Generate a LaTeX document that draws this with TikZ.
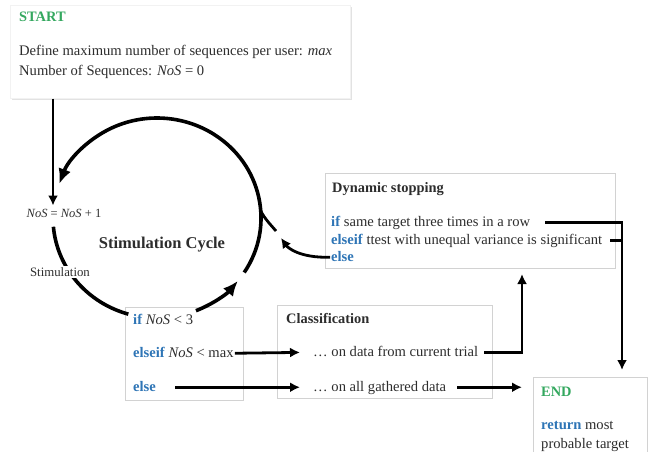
\documentclass[tikz,border=0pt]{standalone}
\usepackage{fontspec}
\setmainfont{Liberation Serif}
\usepackage{xcolor}
\usetikzlibrary{arrows.meta,positioning,calc,shadows}
\definecolor{kwblue}{RGB}{46,117,182}
\definecolor{startgreen}{RGB}{52,168,95}
\definecolor{txtgray}{RGB}{45,45,45}
\newcommand{\kw}[1]{\textcolor{kwblue}{\textbf{#1}}}
\newcommand{\nos}{\textit{NoS}}

\begin{document}
\begin{tikzpicture}[
  x=1pt, y=-1pt,
  font=\fontsize{14.6}{17}\selectfont, text=txtgray,
  box/.style={draw=gray!35, line width=0.6pt, fill=white,
    anchor=north west, inner sep=0pt},
  txt/.style={anchor=base west, inner sep=1pt,
    text height=11pt, text depth=3.5pt},
  ttl/.style={txt, font=\fontsize{14.4}{17}\selectfont\bfseries},
  arr/.style={-{Latex[length=10pt,width=10pt]}, line width=2.8pt},
  cyc/.style={line width=3.6pt},
  cycarr/.style={cyc, -{Latex[length=15pt,width=13pt]}},
]
\useasboundingbox (0,0) rectangle (653,452);
% boxes
\node[box, draw=gray!10, minimum width=340pt, minimum height=93pt,
  drop shadow={shadow xshift=2pt, shadow yshift=-2pt, fill=gray!45}]
  (startbox) at (10,5) {};
\node[box, minimum width=290pt, minimum height=95pt] (dynbox) at (325,173) {};
\node[box, minimum width=118pt, minimum height=93pt] (ifbox) at (125,307) {};
\node[box, minimum width=215pt, minimum height=93pt] (clsbox) at (277,305) {};
\node[box, minimum width=114pt, minimum height=90pt] (endbox) at (533,377) {};
% start
\node[ttl, text=startgreen] (start) at (18,22) {START};
\node[txt] (def) at (18,56)
  {Define maximum number of sequences per user: \textit{max}};
\node[txt] (num) at (18,75) {Number of Sequences: \nos{} = 0};
% stimulation cycle
\coordinate (cyc) at (157,218);
\node[txt, anchor=center, font=\fontsize{12.5}{15}\selectfont]
  (inc) at (64,214) {\nos{} = \nos{} + 1};
\node[font=\fontsize{16.5}{19}\selectfont\bfseries] (cyclbl) at (162,245)
  {Stimulation Cycle};
\draw[cycarr] (cyc) ++(33:104 and 100)
  arc[start angle=33, end angle=-160, x radius=104, y radius=100];
\draw[cyc] (cyc) ++(175:104 and 100)
  arc[start angle=175, end angle=106, x radius=104, y radius=100];
\draw[cycarr] (cyc) ++(68:104 and 100)
  arc[start angle=68, end angle=39, x radius=104, y radius=100];
\node[fill=white, inner sep=1pt, font=\fontsize{12.8}{15}\selectfont]
  (stim) at (60,272) {Stimulation};
\draw[arr] ([xshift=-11pt]inc.north |- startbox.south)
  -- ([xshift=-11pt]inc.north);
% if / elseif / else
\node[txt] (ifa) at (132,324) {\kw{if} \nos{} < 3};
\node[txt] (ifb) at (132,357) {\kw{elseif} \nos{} < max};
\node[txt] (ifc) at (132,391) {\kw{else}};
% classification
\node[ttl] (cls) at (285,323) {Classification};
\node[txt] (cur) at (312,356) {\dots{} on data from current trial};
\node[txt] (all) at (312,391) {\dots{} on all gathered data};
\draw[arr, shorten >=12pt] (ifb.east) -- (cur.west);
\draw[arr, shorten >=12pt] ([xshift=18pt]ifc.east) -- (all.west);
% dynamic stopping
\node[ttl] (dyn) at (331,192) {Dynamic stopping};
\node[txt] (dya) at (330,226) {\kw{if} same target three times in a row};
\node[txt] (dyb) at (330,244)
  {\kw{elseif} ttest with unequal variance is significant};
\node[txt] (dyc) at (330,261) {\kw{else}};
\coordinate (up) at (522,274);
\coordinate (drop) at (622,370);
\coordinate (tipe) at (281,238);
\coordinate (tail) at (276,231);
\coordinate (join) at ($(cyc)+(-4:104 and 100)$);
\draw[arr] ([xshift=5pt]cur.east) -| (up);
\draw[arr] ([xshift=14pt]dya.east) -| (drop);
\draw[line width=2.8pt] ([xshift=7pt]dyb.east) -- (dyb.east -| drop);
\draw[arr] (dyc.west) .. controls (300,258) and (288,248) .. (tipe);
\draw[line width=2.8pt] (tail) .. controls (270,224) and (265,219) .. (join);
% end
\node[ttl, text=startgreen] (endl) at (540,396) {END};
\node[txt] (ret) at (540,429) {\kw{return} most};
\node[txt] (tgt) at (540,448) {probable target};
\draw[arr, shorten >=11pt] ([xshift=10pt]all.east) -- (all.east -| endbox.west);
\end{tikzpicture}
\end{document}
